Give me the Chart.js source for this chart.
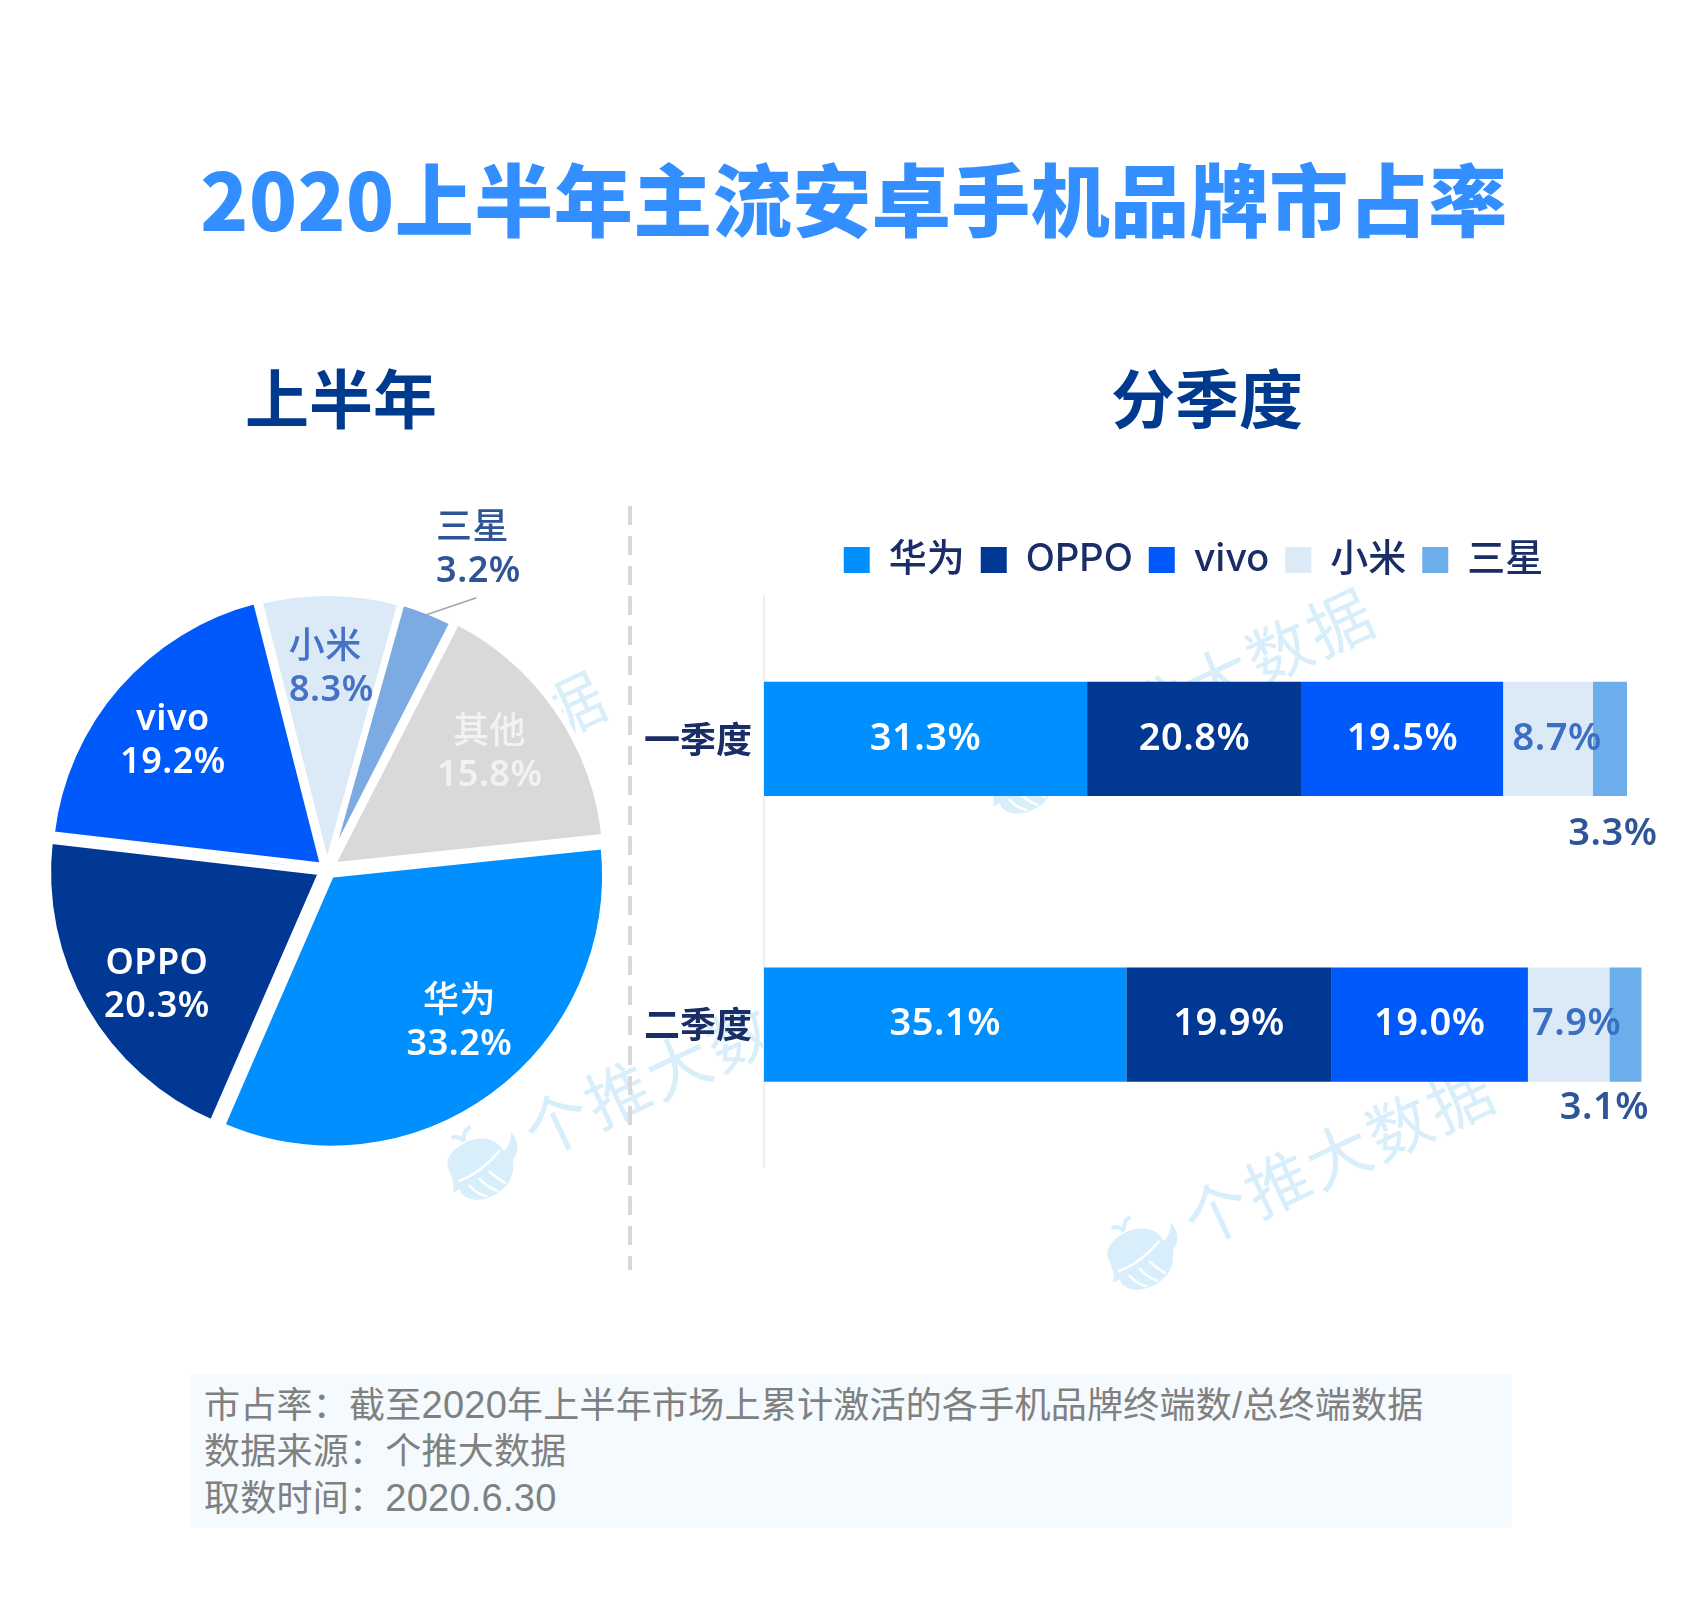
<!DOCTYPE html>
<html lang="zh-CN">
<head>
<meta charset="utf-8">
<title>2020上半年主流安卓手机品牌市占率</title>
<script src="https://cdn.jsdelivr.net/npm/chart.js@4/dist/chart.umd.min.js"></script>
<style>
html, body { margin: 0; padding: 0; background: #fff; }
#page { position: relative; width: 1700px; height: 1622px; overflow: hidden; background: #fff;
  font-family: "Noto Sans CJK SC", "Noto Sans", sans-serif; }
.abs { position: absolute; }
.title { left: 4px; width: 1700px; top: 145px; text-align: center; margin: 0; color: #338fff;
  font-size: 79px; line-height: 104px; font-weight: 900; white-space: nowrap; letter-spacing: 0.5px; }
.sub { width: 400px; text-align: center; margin: 0; color: #003a8f; font-size: 64px; line-height: 80px; font-weight: 700; top: 355px; }
.divider { left: 628px; top: 506px; width: 4px; height: 764px;
  background: repeating-linear-gradient(#d8d8d8 0 19px, transparent 19px 30px); }
.wm { color: #d8eefa; font-size: 64px; line-height: 80px; letter-spacing: 3px; white-space: nowrap;
  transform: translate(-50%, -50%) rotate(-25deg); }
.whale { width: 84px; height: 84px; transform: translate(-50%, -50%) rotate(-25deg); }
.note { left: 190px; top: 1374px; width: 1322px; height: 154px; background: #f4fafd; color: #808080;
  font-family: "Liberation Sans", "Noto Sans CJK SC", sans-serif; font-size: 36px; line-height: 46px;
  letter-spacing: 0.25px; padding: 8px 0 0 14px; box-sizing: border-box; white-space: nowrap; }
.note span { font-size: 38px; }
canvas { position: absolute; display: block; }
</style>
</head>
<body>
<div id="page">
  <svg width="0" height="0" class="abs">
    <symbol id="whaleIcon" viewBox="0 0 84 84">
      <path fill="#d8eefa" d="M8 34 C8 22 20 16 36 16 C52 16 64 24 66 40 C72 38 78 32 80 26 C84 36 80 48 70 52 C66 68 52 76 36 76 C20 76 8 66 10 56 L2 56 C6 52 8 46 8 34 Z"/>
      <path fill="none" stroke="#fff" stroke-width="2.5" d="M12 48 C26 50 44 46 62 38 M20 56 C22 64 26 70 32 74 M32 54 C34 62 38 68 44 74 M44 52 C46 58 50 64 54 70"/>
      <path fill="none" stroke="#d8eefa" stroke-width="4" d="M34 14 C32 8 28 6 24 6 M34 14 C36 8 40 4 46 4"/>
    </symbol>
  </svg>

  <div class="abs wm" style="left:678px;top:1062px">个推大数据</div>
  <svg class="abs whale" style="left:483px;top:1163px"><use href="#whaleIcon"/></svg>
  <div class="abs wm" style="left:1338px;top:1151px">个推大数据</div>
  <svg class="abs whale" style="left:1143px;top:1253px"><use href="#whaleIcon"/></svg>
  <div class="abs wm" style="left:1218px;top:675px">个推大数据</div>
  <svg class="abs whale" style="left:1023px;top:777px"><use href="#whaleIcon"/></svg>
  <div class="abs wm" style="left:450px;top:758px">个推大数据</div>
  <svg class="abs whale" style="left:255px;top:860px"><use href="#whaleIcon"/></svg>

  <h1 class="abs title">2020上半年主流安卓手机品牌市占率</h1>
  <h2 class="abs sub" style="left:141px">上半年</h2>
  <h2 class="abs sub" style="left:1007px">分季度</h2>
  <div class="abs divider"></div>

  <canvas id="pieChart" width="654" height="780" style="left:0;top:479px"></canvas>
  <canvas id="barChart" width="1123" height="676" style="left:632px;top:525px"></canvas>

  <div class="abs note">市占率：截至<span>2020</span>年上半年市场上累计激活的各手机品牌终端数/总终端数据<br>数据来源：个推大数据<br>取数时间：<span>2020.6.30</span></div>
</div>

<script>
// Half year share
const pieLabels = ['华为', 'OPPO', 'vivo', '小米', '三星', '其他'];
const pieValues = [33.2, 20.3, 19.2, 8.3, 3.2, 15.8];
const pieColors = ['#008fff', '#003894', '#0059fa', '#dce9f7', '#7caae3', '#d9d9d9'];
const pieTextColors = ['#ffffff', '#ffffff', '#ffffff', '#4672c4', '#2f5597', '#f2f2f2'];
// chart.js moves a slice by offset / 4
const pieOffsets = [28, 26, 20, 8, 8, 24];
const pieLabelShiftX = [13, 5, -2, 2, 0, -4];
const pieLabelShiftY = [-9, 15, 5, 2, 0, -1];

// Quarterly share
const quarters = ['一季度', '二季度'];
const brands = ['华为', 'OPPO', 'vivo', '小米', '三星'];
const huaweiShare = [31.3, 35.1];
const oppoShare = [20.8, 19.9];
const vivoShare = [19.5, 19.0];
const xiaomiShare = [8.7, 7.9];
const samsungShare = [3.3, 3.1];
const barColors = ['#008fff', '#003894', '#0059fa', '#dce9f7', '#6cadec'];
const barTextColors = ['#ffffff', '#ffffff', '#ffffff', '#3a6fc4', '#2f5597'];

const numberFont = '"Noto Sans", "Noto Sans CJK SC", sans-serif';

// Labels inside the pie slices, 三星 goes outside with a leader line
const pieLabelPlugin = {
    id: 'pieLabels',
    afterDatasetsDraw(chart) {
        const ctx = chart.ctx;
        const arcs = chart.getDatasetMeta(0).data;
        ctx.save();
        ctx.letterSpacing = '0.5px';
        ctx.textAlign = 'center';
        ctx.textBaseline = 'middle';
        arcs.forEach(function(arc, i) {
            const p = arc.getProps(['x', 'y', 'startAngle', 'endAngle', 'outerRadius']);
            const mid = (p.startAngle + p.endAngle) / 2;
            let x, y;
            if (pieLabels[i] === '三星') {
                const ox = p.x + Math.cos(mid) * p.outerRadius;
                const oy = p.y + Math.sin(mid) * p.outerRadius;
                ctx.strokeStyle = '#a6a6a6';
                ctx.lineWidth = 1.5;
                ctx.beginPath();
                ctx.moveTo(ox, oy);
                ctx.lineTo(ox + 50, oy - 17);
                ctx.stroke();
                x = ox + 52;
                y = oy - 65;
            } else {
                x = p.x + Math.cos(mid) * p.outerRadius * 0.74 + pieLabelShiftX[i];
                y = p.y + Math.sin(mid) * p.outerRadius * 0.74 + pieLabelShiftY[i];
            }
            // 小米 and 三星 rows are flush left in the original
            const nameShift = (pieLabels[i] === '小米' || pieLabels[i] === '三星') ? -6 : 0;
            const latinName = /[a-z]/i.test(pieLabels[i]);
            ctx.fillStyle = pieTextColors[i];
            ctx.font = (latinName ? '600' : '500') + ' 36px ' + numberFont;
            ctx.fillText(pieLabels[i], x + nameShift, y - 21);
            ctx.font = '600 36px ' + numberFont;
            ctx.fillText(pieValues[i].toFixed(1) + '%', x, y + 22);
        });
        ctx.restore();
    }
};

// Value labels on the stacked bars, small segments get nudged
const barLabelPlugin = {
    id: 'barLabels',
    afterDatasetsDraw(chart) {
        const ctx = chart.ctx;
        ctx.save();
        ctx.font = '600 38px ' + numberFont;
        ctx.letterSpacing = '0.5px';
        ctx.textAlign = 'center';
        ctx.textBaseline = 'middle';
        chart.data.datasets.forEach(function(ds, d) {
            chart.getDatasetMeta(d).data.forEach(function(bar, i) {
                let x = (bar.base + bar.x) / 2;
                let y = bar.y;
                if (d === 3) {
                    x += i === 0 ? 9 : 8;
                }
                if (d === 4) {
                    x += i === 0 ? 3 : -21;
                    y += i === 0 ? 95 : 84;
                }
                ctx.fillStyle = barTextColors[d];
                ctx.fillText(ds.data[i].toFixed(1) + '%', x, y);
            });
        });
        ctx.restore();
    }
};

function initPieChart() {
    new Chart(document.getElementById('pieChart'), {
        type: 'pie',
        data: {
            labels: pieLabels,
            datasets: [{
                data: pieValues,
                backgroundColor: pieColors,
                borderColor: '#ffffff',
                borderWidth: 6,
                offset: pieOffsets
            }]
        },
        options: {
            responsive: false,
            animation: false,
            rotation: 84,
            radius: 273,
            plugins: { legend: { display: false }, tooltip: { enabled: false } }
        },
        plugins: [pieLabelPlugin]
    });
}

function initBarChart() {
    const series = [huaweiShare, oppoShare, vivoShare, xiaomiShare, samsungShare];
    new Chart(document.getElementById('barChart'), {
        type: 'bar',
        data: {
            labels: quarters,
            datasets: brands.map(function(name, i) {
                return {
                    label: name,
                    data: series[i],
                    backgroundColor: barColors[i],
                    barPercentage: 0.4,
                    categoryPercentage: 1
                };
            })
        },
        options: {
            indexAxis: 'y',
            responsive: false,
            animation: false,
            scales: {
                x: {
                    stacked: true,
                    min: 0,
                    max: 96,
                    position: 'top',
                    grid: { display: false },
                    border: { display: false },
                    ticks: { display: false },
                    afterFit: function(scale) { scale.height = 7; }
                },
                y: {
                    stacked: true,
                    grid: { display: false, drawTicks: false },
                    border: { color: '#eeeeee', width: 2 },
                    ticks: { color: '#1a2d66', padding: 12, font: { family: '"Noto Sans CJK SC"', size: 36, weight: 600 } },
                    afterFit: function(scale) { scale.width = 132; }
                }
            },
            plugins: {
                tooltip: { enabled: false },
                legend: {
                    position: 'top',
                    labels: {
                        boxWidth: 26,
                        boxHeight: 26,
                        padding: 16,
                        color: '#1a2d66',
                        font: { family: 'Inter, "Noto Sans CJK SC"', size: 38, weight: 500 }
                    }
                }
            }
        },
        plugins: [barLabelPlugin]
    });
}

document.addEventListener('DOMContentLoaded', function() {
    initPieChart();
    initBarChart();
});
</script>
</body>
</html>
